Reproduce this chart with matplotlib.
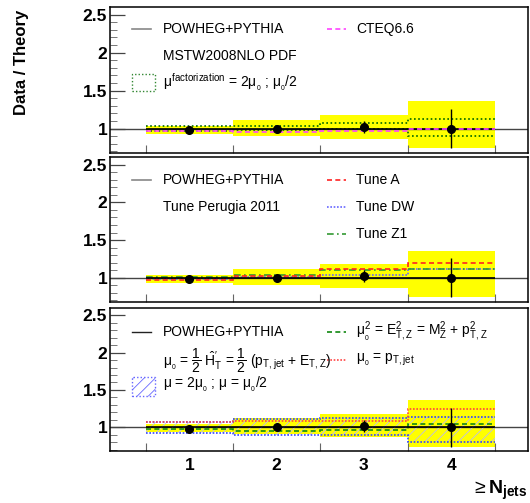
import matplotlib.pyplot as plt
import numpy as np

plt.rcParams["font.family"] = ["Liberation Sans", "DejaVu Sans"]
plt.rcParams["mathtext.fontset"] = "custom"
plt.rcParams["mathtext.rm"] = "Liberation Sans"
plt.rcParams["mathtext.it"] = "Liberation Sans"
plt.rcParams["mathtext.bf"] = "Liberation Sans:bold"
plt.rcParams["hatch.linewidth"] = 0.6

# bins of >= N_jets
edges = np.array([0.5, 1.5, 2.5, 3.5, 4.5])
njets = [1, 2, 3, 4]

# data / POWHEG and uncertainties
data = [0.98, 1.0, 1.02, 1.0]
data_err = [0.02, 0.02, 0.08, 0.26]
band_lo = [0.93, 0.91, 0.87, 0.74]
band_hi = [1.04, 1.12, 1.18, 1.36]
powheg = [1.0, 1.0, 1.0, 1.0]

# panel 1: PDF
cteq = [0.97, 0.96, 0.97, 0.99]
fact_hi = [1.03, 1.03, 1.08, 1.13]
fact_lo = [0.97, 0.98, 0.99, 0.90]

# panel 2: tunes
tune_a = [0.97, 1.02, 1.12, 1.20]
tune_dw = [0.98, 1.01, 1.04, 1.12]
tune_z1 = [1.01, 1.04, 1.10, 1.12]

# panel 3: scales
scale_hi = [1.07, 1.11, 1.12, 1.14]
scale_lo = [0.92, 0.89, 0.89, 0.80]
mu_etz = [0.97, 0.95, 0.96, 1.04]
mu_ptjet = [1.07, 1.08, 1.08, 1.24]

fig = plt.figure(figsize=(5.3, 5.03), dpi=100)
left, width = 110 / 530, 418 / 530
rows = [(7, 153), (157, 302), (308, 451)]
axes = []
for top, bot in rows:
    ax = fig.add_axes([left, 1 - bot / 503, width, (bot - top) / 503])
    axes.append(ax)


def step(ax, vals, **kw):
    ax.stairs(vals, edges, baseline=None, **kw)


def common(ax, last):
    ax.set_xlim(0.09, 4.88)
    ax.set_ylim(0.68, 2.6)
    ax.stairs(band_hi, edges, baseline=band_lo, fill=True, color="#ffff00", zorder=1)
    ax.axhline(1.0, color="#444444", lw=1.0, zorder=2)
    step(ax, powheg, color="black", lw=1.2, zorder=4)
    ax.errorbar(njets, data, yerr=data_err, fmt="o", color="black", ms=5.5,
                elinewidth=1.0, capsize=0, zorder=6)
    ax.set_yticks([1, 1.5, 2, 2.5])
    ax.set_yticklabels(["1", "1.5", "2", "2.5"], fontsize=12.5, fontweight="bold")
    ax.set_yticks(np.arange(0.7, 2.6, 0.1), minor=True)
    ax.tick_params(axis="y", which="major", direction="in", length=11, width=0.9,
                   color="#444444", right=False, pad=2)
    ax.tick_params(axis="y", which="minor", direction="in", length=5, width=0.7,
                   color="#777777", right=False)
    ax.set_xticks(edges)
    ax.tick_params(axis="x", which="major", direction="in", length=6, width=0.8,
                   color="#666666", labelbottom=False)
    for s in ax.spines.values():
        s.set_linewidth(1.1)
    if last:
        for n in njets:
            ax.text(n, -0.05, str(n), transform=ax.get_xaxis_transform(),
                    ha="center", va="top", fontsize=12.5, fontweight="bold")


def leg_line(ax, x0, y, **kw):
    ax.plot([x0, x0 + 0.045], [y, y], transform=ax.transAxes, **kw)


for i, ax in enumerate(axes):
    common(ax, i == 2)

# panel 1
ax = axes[0]
step(ax, fact_hi, color="#006600", lw=1.2, ls=(0, (1, 1.5)), zorder=3)
step(ax, fact_lo, color="#006600", lw=1.2, ls=(0, (1, 1.5)), zorder=3)
step(ax, cteq, color="#ff44ff", lw=1.2, ls=(0, (3, 2)), zorder=5)
leg_line(ax, 0.053, 0.85, color="#888888", lw=1.2)
ax.text(0.127, 0.85, "POWHEG+PYTHIA", transform=ax.transAxes, va="center", fontsize=10)
ax.text(0.127, 0.665, "MSTW2008NLO PDF", transform=ax.transAxes, va="center", fontsize=10)
ax.add_patch(plt.Rectangle((0.053, 0.425), 0.055, 0.115, transform=ax.transAxes,
                           fill=False, ec="#338833", lw=1.0, ls=(0, (1, 1.5))))
ax.text(0.127, 0.486, r"$\mu^{\rm factorization}$ = 2$\mu_{_0}$ ; $\mu_{_0}$/2",
        transform=ax.transAxes, va="center", fontsize=10)
leg_line(ax, 0.519, 0.85, color="#ff44ff", lw=1.2, ls=(0, (3, 2)))
ax.text(0.589, 0.85, "CTEQ6.6", transform=ax.transAxes, va="center", fontsize=10)

# panel 2
ax = axes[1]
step(ax, tune_dw, color="#6666ff", lw=1.2, ls=(0, (1, 1)), zorder=3)
step(ax, tune_z1, color="#339933", lw=1.2, ls=(0, (4, 2, 1, 2)), zorder=3)
step(ax, tune_a, color="#ff2222", lw=1.2, ls=(0, (3, 2)), zorder=3)
leg_line(ax, 0.053, 0.842, color="#888888", lw=1.2)
ax.text(0.127, 0.842, "POWHEG+PYTHIA", transform=ax.transAxes, va="center", fontsize=10)
ax.text(0.127, 0.658, "Tune Perugia 2011", transform=ax.transAxes, va="center", fontsize=10)
leg_line(ax, 0.519, 0.842, color="#ff2222", lw=1.2, ls=(0, (3, 2)))
ax.text(0.589, 0.842, "Tune A", transform=ax.transAxes, va="center", fontsize=10)
leg_line(ax, 0.519, 0.658, color="#6666ff", lw=1.2, ls=(0, (1, 1)))
ax.text(0.589, 0.658, "Tune DW", transform=ax.transAxes, va="center", fontsize=10)
leg_line(ax, 0.519, 0.466, color="#339933", lw=1.2, ls=(0, (4, 2, 1, 2)))
ax.text(0.589, 0.466, "Tune Z1", transform=ax.transAxes, va="center", fontsize=10)

# panel 3
ax = axes[2]
ax.stairs(scale_hi, edges, baseline=scale_lo, fill=True, facecolor="none",
          edgecolor="#bbbbee", hatch="///", lw=0, zorder=2)
step(ax, scale_hi, color="#3344ff", lw=1.2, ls=(0, (1, 1)), zorder=3)
step(ax, scale_lo, color="#3344ff", lw=1.2, ls=(0, (1, 1)), zorder=3)
step(ax, mu_ptjet, color="#ff4444", lw=1.2, ls=(0, (1, 1)), zorder=3)
step(ax, mu_etz, color="#118811", lw=1.2, ls=(0, (3, 2)), zorder=3)
leg_line(ax, 0.053, 0.83, color="#222222", lw=1.0)
ax.text(0.127, 0.83, "POWHEG+PYTHIA", transform=ax.transAxes, va="center", fontsize=10)
ax.text(0.127, 0.634,
        r"$\mu_{_0}$ = $\dfrac{1}{2}$ $\hat{H}^{\prime}_{\rm T}$ = $\dfrac{1}{2}$ (p$_{\rm T,jet}$ + E$_{\rm T,Z}$)",
        transform=ax.transAxes, va="center", fontsize=10)
ax.add_patch(plt.Rectangle((0.053, 0.387), 0.055, 0.127, transform=ax.transAxes,
                           fill=False, ec="#6666ff", hatch="///", lw=1.0,
                           ls=(0, (1, 1.5))))
ax.text(0.127, 0.466, r"$\mu$ = 2$\mu_{_0}$ ; $\mu$ = $\mu_{_0}$/2",
        transform=ax.transAxes, va="center", fontsize=10)
leg_line(ax, 0.519, 0.83, color="#118811", lw=1.2, ls=(0, (3, 2)))
ax.text(0.589, 0.83, r"$\mu^2_{_0}$ = E$^2_{\rm T,Z}$ = M$^2_{\rm Z}$ + p$^2_{\rm T,Z}$",
        transform=ax.transAxes, va="center", fontsize=10)
leg_line(ax, 0.519, 0.634, color="#ff4444", lw=1.2, ls=(0, (1, 1)))
ax.text(0.589, 0.634, r"$\mu_{_0}$ = p$_{\rm T,jet}$", transform=ax.transAxes,
        va="center", fontsize=10)

fig.text(22 / 530, 1 - 10 / 503, "Data / Theory", rotation=90, ha="center", va="top",
         fontsize=12, fontweight="bold")
fig.text(527 / 530, 1 - 490 / 503, r"${\geq}\mathbf{N}_{\mathbf{jets}}$", ha="right",
         va="center", fontsize=14)

fig.savefig("out.png", dpi=100)
